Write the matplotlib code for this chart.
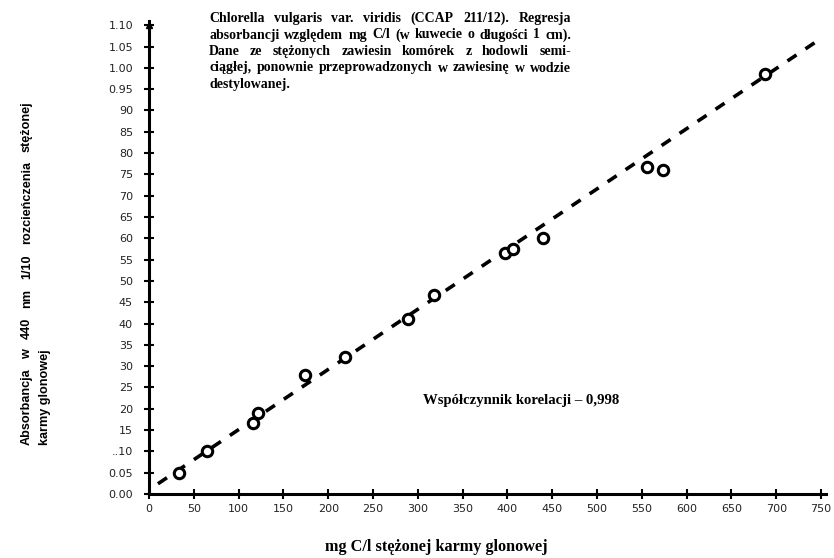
import matplotlib.pyplot as plt

# measured points (mg C/l vs absorbance)
conc = [33.8, 64.4, 116.4, 122.0, 174.0, 218.8, 289.4, 318.0,
        397.3, 405.9, 439.4, 555.4, 574.0, 687.5]
absorb = [0.049, 0.101, 0.166, 0.189, 0.279, 0.322, 0.411, 0.466,
          0.566, 0.574, 0.600, 0.768, 0.761, 0.985]

# regression line ends as drawn
fit_x = [10, 745]
fit_y = [0.024, 1.062]

x_ticks = list(range(0, 751, 50))
y_ticks = [round(i * 0.05, 2) for i in range(23)]
y_labels = ['0.00', '0.05', '..10', '15', '20', '25', '30', '35', '40', '45',
            '50', '55', '60', '65', '70', '75', '80', '85', '90',
            '0.95', '1.00', '1.05', '1.10']

note_lines = [
    'Chlorella vulgaris var. viridis (CCAP 211/12). Regresja',
    'absorbancji względem mg C/l (w kuwecie o długości 1 cm).',
    'Dane ze stężonych zawiesin komórek z hodowli semi-',
    'ciągłej, ponownie przeprowadzonych w zawiesinę w wodzie',
    'destylowanej.',
]
ylabel_lines = ['Absorbancja w 440 nm 1/10 rozcieńczenia stężonej',
                'karmy glonowej']
corr_text = 'Współczynnik korelacji – 0,998'
xlabel_text = 'mg C/l stężonej karmy glonowej'

W, H = 834, 558
fig = plt.figure(figsize=(W / 100, H / 100), dpi=100)
ax = fig.add_axes([149 / W, 64 / H, 676.5 / W, 473 / H])
renderer = fig.canvas.get_renderer()
serif = 'Liberation Serif'
sans = 'Liberation Sans'


def size_for(text, px, family, weight='bold', rot=0):
    t = fig.text(0, 0, text, family=family, weight=weight, fontsize=10,
                 rotation=rot)
    bb = t.get_window_extent(renderer)
    t.remove()
    return 10 * px / (bb.height if rot else bb.width)


def justify(line, start, end, base, size, family, vertical=False):
    # spread the words of one line between start and end (pixels)
    words = line.split(' ')
    rot = 90 if vertical else 0
    objs = [fig.text(0, 0, w, family=family, weight='bold', fontsize=size,
                     rotation=rot, rotation_mode='anchor',
                     ha='left', va='baseline') for w in words]
    lens = [(t.get_window_extent(renderer).height if vertical
             else t.get_window_extent(renderer).width) for t in objs]
    gap = (end - start - sum(lens)) / max(len(words) - 1, 1)
    p = start
    for t, ln in zip(objs, lens):
        if vertical:
            t.set_position((base / W, p / H))
        else:
            t.set_position((p / W, base / H))
        p += ln + gap


ax.plot(fit_x, fit_y, color='black', lw=2.6, linestyle=(0, (3, 3)))
ax.plot(conc, absorb, 'o', mfc='white', mec='black', ms=7.5, mew=2.2)

ax.set_xlim(0, 755)
ax.set_ylim(0, 1.11)
for s in ['top', 'right']:
    ax.spines[s].set_visible(False)
for s in ['left', 'bottom']:
    ax.spines[s].set_linewidth(2.2)
ax.plot([0], [1.10], marker='^', color='black', ms=5, clip_on=False)

ax.set_xticks(x_ticks)
ax.set_xticklabels([str(v) for v in x_ticks])
ax.set_yticks(y_ticks)
ax.set_yticklabels(y_labels)
ax.tick_params(direction='inout', length=7, width=1.5, labelsize=8,
               labelcolor='#222222')
ax.tick_params(axis='y', pad=8)
ax.tick_params(axis='x', pad=4)

fs = size_for(corr_text, 197, serif)
fig.text(423 / W, 1 - 404 / H, corr_text, family=serif, weight='bold',
         fontsize=fs, va='baseline')
fs = size_for(xlabel_text, 223, serif)
fig.text(325 / W, 1 - 551 / H, xlabel_text, family=serif, weight='bold',
         fontsize=fs, va='baseline')

# y label: two rotated lines, the first one justified
fs = size_for(ylabel_lines[1], 95, sans, rot=90)
fs1 = size_for(ylabel_lines[0], 305, sans, rot=90)
justify(ylabel_lines[0], H - 445, H - 101, 30, fs1, sans, vertical=True)
fig.text(48 / W, (H - 445) / H, ylabel_lines[1], family=sans, weight='bold',
         fontsize=fs, rotation=90, rotation_mode='anchor',
         ha='left', va='baseline')

# justified note block at the top
left, right, top, step = 209, 571, 22, 16.5
fs = size_for(note_lines[1], right - left - 14, serif)
for i, line in enumerate(note_lines):
    y = H - (top + i * step)
    if i == len(note_lines) - 1:
        fig.text(left / W, y / H, line, family=serif, weight='bold',
                 fontsize=fs, va='baseline')
    else:
        justify(line, left, right, y, fs, serif)

fig.savefig('out.png', dpi=100)
